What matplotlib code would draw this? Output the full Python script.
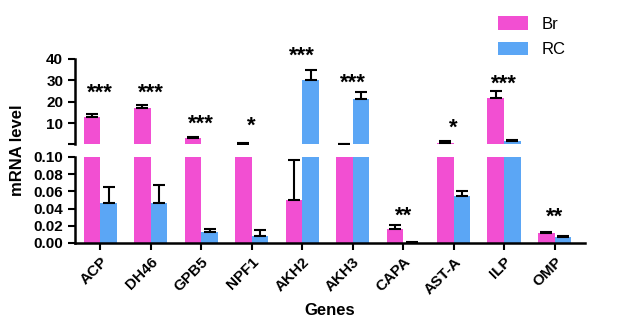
import numpy as np
import matplotlib.pyplot as plt

genes = ['ACP', 'DH46', 'GPB5', 'NPF1', 'AKH2', 'AKH3', 'CAPA', 'AST-A', 'ILP', 'OMP']
br = [12.8, 17.2, 3.1, 0.5, 0.05, 0.3, 0.016, 1.0, 21.7, 0.0115]
br_err = [1.4, 1.4, 0.5, 0.2, 0.046, 0.1, 0.005, 0.5, 3.2, 0.0015]
rc = [0.047, 0.047, 0.0125, 0.0085, 30.2, 21.1, 0.0005, 0.055, 1.6, 0.0065]
rc_err = [0.018, 0.020, 0.004, 0.007, 4.6, 3.3, 0.0004, 0.006, 0.8, 0.0013]
stars = ['***', '***', '***', '*', '***', '***', '**', '*', '***', '**']
# star y position and which panel ('t' top, 'b' bottom)
star_y = [24.0, 24.0, 9.5, 8.5, 41.5, 28.7, 0.031, 7.5, 28.0, 0.030]
star_ax = ['t', 't', 't', 't', 't', 't', 'b', 't', 't', 'b']

pink = '#F24FD2'
blue = '#5BA6F5'
brk = 0.1

plt.rcParams['font.family'] = ['Liberation Sans', 'DejaVu Sans']

fig = plt.figure(figsize=(6.17, 3.34), dpi=100)
ax_t = fig.add_axes([0.1216, 0.5674, 0.8264, 0.256])
ax_b = fig.add_axes([0.1216, 0.2725, 0.8264, 0.2575])

x = np.arange(len(genes))
w = 0.33


def draw_err(ax, xs, vals, errs, top_panel):
    vals = np.array(vals)
    errs = np.array(errs)
    tops = vals + errs
    keep = tops > brk if top_panel else tops <= brk
    ax.errorbar(xs[keep], vals[keep], yerr=[np.zeros(keep.sum()), errs[keep]],
                fmt='none', ecolor='black', elinewidth=1.5, capsize=4.5,
                capthick=1.5, zorder=3)


for ax, is_top in ((ax_t, True), (ax_b, False)):
    ax.bar(x - w / 2, br, w, color=pink, label='Br', zorder=2)
    ax.bar(x + w / 2, rc, w, color=blue, label='RC', zorder=2)
    draw_err(ax, x - w / 2, br, br_err, is_top)
    draw_err(ax, x + w / 2, rc, rc_err, is_top)
    ax.set_xlim(-0.5, 9.6)
    for s in ('top', 'right'):
        ax.spines[s].set_visible(False)
    ax.spines['left'].set_linewidth(1.8)
    ax.tick_params(axis='y', width=1.5, length=5, labelsize=11)

ax_t.set_ylim(brk, 40)
ax_t.set_yticks([brk, 10, 20, 30, 40])
ax_t.set_yticklabels(['', '10', '20', '30', '40'], fontweight='bold')
ax_t.spines['bottom'].set_visible(False)
ax_t.set_xticks([])

ax_b.set_ylim(0, brk)
ax_b.set_yticks([0, 0.02, 0.04, 0.06, 0.08, 0.10])
ax_b.set_yticklabels(['0.00', '0.02', '0.04', '0.06', '0.08', '0.10'], fontweight='bold')
ax_b.spines['bottom'].set_linewidth(1.8)
ax_b.set_xticks(x)
ax_b.set_xticklabels(genes, rotation=45, ha='right', rotation_mode='anchor',
                     fontweight='bold', fontsize=11)
ax_b.tick_params(axis='x', width=1.5, length=5)

for i, s in enumerate(stars):
    ax = ax_t if star_ax[i] == 't' else ax_b
    ax.text(x[i], star_y[i], s, ha='center', va='center', fontsize=16,
            fontweight='bold', clip_on=False)

ax_b.set_xlabel('Genes', fontweight='bold', fontsize=12, labelpad=4)
fig.text(0.028, 0.55, 'mRNA level', rotation=90, ha='center', va='center',
         fontweight='bold', fontsize=12)

ax_t.legend(loc='upper left', bbox_to_anchor=(0.8, 1.68), frameon=False,
            fontsize=12, handlelength=1.8, handleheight=0.9, labelspacing=0.6)

fig.savefig('out.png', dpi=100)
